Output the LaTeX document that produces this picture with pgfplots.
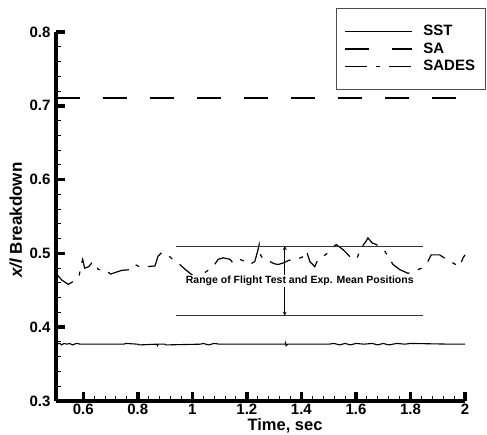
\documentclass[border=0pt]{standalone}
\usepackage{pgfplots}
\pgfplotsset{compat=1.18}
\usepackage{fontspec}
\setmainfont{Liberation Sans}
\begin{document}
\begin{tikzpicture}
\begin{axis}[
  name=ax,
  scale only axis,
  width=409bp, height=369bp,
  xmin=0.5, xmax=2, ymin=0.3, ymax=0.8,
  xtick={0.6,0.8,1,1.2,1.4,1.6,1.8,2},
  ytick={0.3,0.4,0.5,0.6,0.7,0.8},
  minor x tick num=4, minor y tick num=4,
  axis lines=left,
  axis line style={-, line width=4bp},
  tick align=inside,
  major tick length=9bp, minor tick length=4.5bp,
  every major tick/.style={line width=3.5bp, black},
  every minor tick/.style={line width=1bp, black},
  /pgf/number format/assume math mode=true,
  ticklabel style={font=\fontsize{15bp}{18bp}\selectfont\bfseries},
  yticklabel style={xshift=-2bp},
  xticklabel style={inner sep=0pt, yshift=-3bp},
  xlabel={Time, sec},
  xlabel style={at={(axis description cs:0.56,-0.068)}, anchor=center, inner sep=0pt, font=\fontsize{16.5bp}{19bp}\selectfont\bfseries},
  ylabel={\textit{x/l} Breakdown},
  ylabel style={at={(axis description cs:-0.098,0.49)}, anchor=center, rotate=0, font=\fontsize{17bp}{20bp}\selectfont\bfseries},
  legend cell align=left,
  legend style={at={(axis description cs:0.6846,1.065)}, anchor=north west,
    draw=black!70, line width=1bp, fill=white,
    inner xsep=8bp, inner ysep=15bp,
    font=\fontsize{15bp}{17.5bp}\selectfont\bfseries,
    row sep=1.5bp},
  legend image code/.code={\draw[#1] (0bp,0bp) -- (67bp,0bp); \path (75bp,0bp);},
  clip=false,
]
% SST
\addplot[black, line width=1.1bp] coordinates {
(0.500,0.377) (0.515,0.378) (0.520,0.376) (0.530,0.378) (0.540,0.377) (0.550,0.378) (0.560,0.376) (0.575,0.378) (0.590,0.377)
(0.750,0.377) (0.755,0.378) (0.800,0.377) (0.805,0.376) (0.870,0.377) (0.872,0.375) (0.875,0.377) (0.900,0.377) (0.903,0.376)
(1.030,0.377) (1.040,0.378) (1.060,0.376) (1.080,0.378) (1.100,0.377) (1.340,0.377) (1.342,0.379) (1.344,0.375) (1.350,0.377)
(1.500,0.377) (1.520,0.378) (1.540,0.376) (1.560,0.378) (1.580,0.376) (1.600,0.378) (1.630,0.377) (1.660,0.378) (1.680,0.376)
(1.700,0.378) (1.720,0.376) (1.750,0.378) (1.780,0.377) (1.800,0.378) (1.950,0.377) (2.000,0.377)
};
\addlegendentry{SST}
% SA
\addplot[black, line width=1.9bp, dash pattern=on 24bp off 23bp] coordinates {(0.5,0.710) (2.0,0.710)};
\addlegendentry{SA}
% SADES
\addplot[black, line width=1.2bp, dash pattern=on 22bp off 9bp on 4bp off 9bp] coordinates {
(0.500,0.473) (0.521,0.464) (0.545,0.458) (0.572,0.464) (0.585,0.470) (0.594,0.487) (0.598,0.492) (0.605,0.480)
(0.620,0.482) (0.631,0.487) (0.643,0.488) (0.655,0.478) (0.680,0.478) (0.700,0.472) (0.716,0.474) (0.741,0.477)
(0.771,0.478) (0.790,0.485) (0.810,0.481) (0.832,0.482) (0.863,0.483) (0.874,0.496) (0.887,0.501) (0.910,0.498)
(0.936,0.489) (0.954,0.485) (0.975,0.478) (0.995,0.472) (1.010,0.468) (1.030,0.470) (1.050,0.475) (1.076,0.482)
(1.095,0.492) (1.113,0.494) (1.138,0.492) (1.149,0.487) (1.174,0.492) (1.193,0.489) (1.211,0.485) (1.229,0.489)
(1.241,0.505) (1.245,0.512) (1.250,0.498) (1.260,0.492) (1.284,0.489) (1.300,0.486) (1.315,0.485) (1.333,0.487)
(1.357,0.491) (1.382,0.492) (1.410,0.496) (1.419,0.503) (1.431,0.489) (1.449,0.482) (1.461,0.492) (1.480,0.496)
(1.498,0.501) (1.510,0.507) (1.528,0.512) (1.553,0.505) (1.577,0.496) (1.602,0.492) (1.620,0.508) (1.638,0.517)
(1.644,0.521) (1.660,0.514) (1.675,0.512) (1.706,0.503) (1.724,0.492) (1.736,0.485) (1.761,0.478) (1.791,0.473)
(1.816,0.476) (1.840,0.480) (1.864,0.489) (1.876,0.498) (1.907,0.498) (1.932,0.492) (1.956,0.487) (1.980,0.482)
(1.993,0.494) (2.000,0.498)
};
\addlegendentry{SADES}
% range annotation
\draw[black!80, line width=0.8bp] (axis cs:0.94,0.510) -- (axis cs:1.845,0.510);
\draw[black!80, line width=0.8bp] (axis cs:0.94,0.4156) -- (axis cs:1.845,0.4156);
\draw[black, line width=0.8bp, <->, >=stealth] (axis cs:1.339,0.510) -- (axis cs:1.339,0.4156);
\node[fill=white, inner sep=1bp, font=\fontsize{10.5bp}{12bp}\selectfont\bfseries] at (axis cs:1.394,0.463) {Range of Flight Test and Exp. Mean Positions};
\end{axis}
\pgfresetboundingbox
\useasboundingbox ([shift={(-56bp,-34bp)}]ax.south west) rectangle ([shift={(431bp,401bp)}]ax.south west);
\end{tikzpicture}
\end{document}
